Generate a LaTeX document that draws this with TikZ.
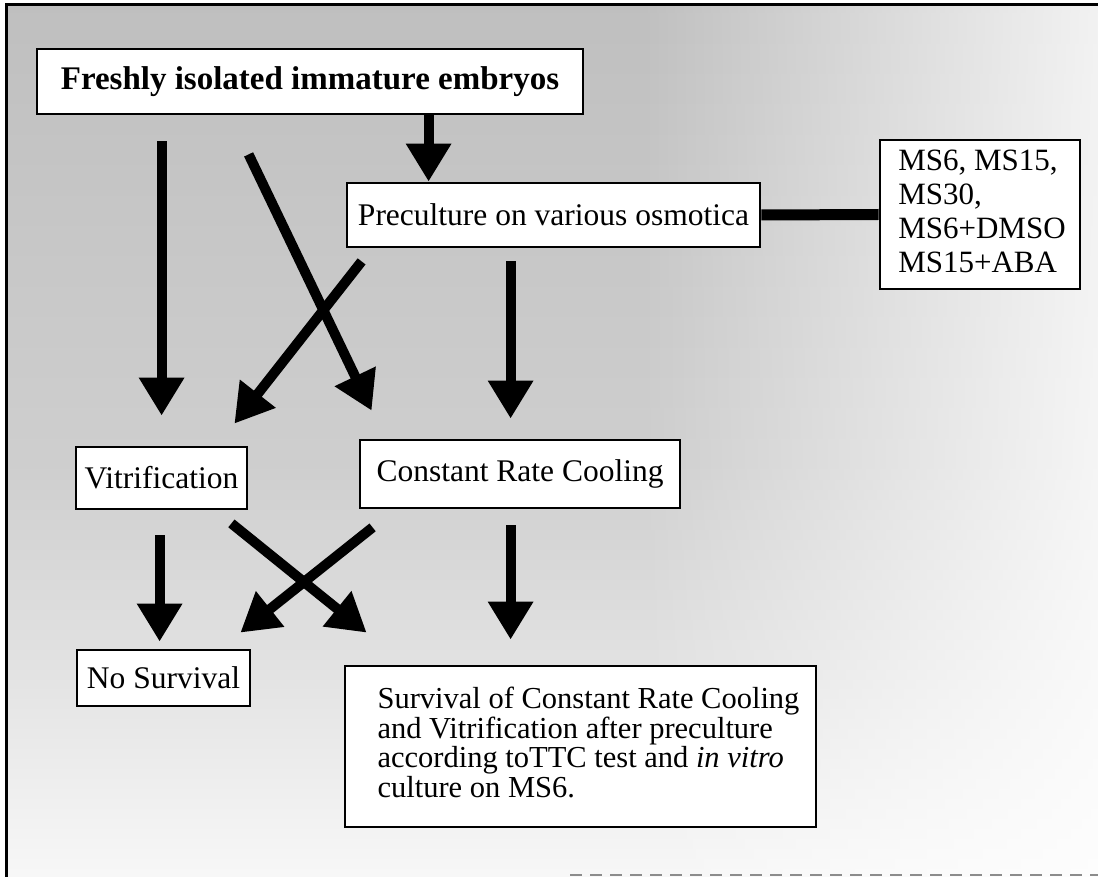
\documentclass[tikz,border=0pt]{standalone}
\usepackage{fontspec}
\setmainfont{Liberation Serif}
\usetikzlibrary{arrows.meta,calc,fadings}
\begin{document}
\begin{tikzpicture}[x=1pt,y=-1pt,
  box/.style={draw=black, line width=2.8pt, fill=white, inner sep=0pt,
    font=\fontsize{31.5}{34}\selectfont},
  fat/.style={line width=10pt, -{Triangle[length=38pt,width=43pt]}},
  link/.style={line width=11pt},
  frame/.style={line width=3pt, black}
]
\useasboundingbox (0,0) rectangle (1098,877);
% textured background approximated by shading
\shade[top color=black!25, bottom color=black!19] (6,5) rectangle (1098,470);
\shade[top color=black!19, middle color=black!10, bottom color=black!3] (6,470) rectangle (1098,877);
\fill[white, path fading=west, opacity=0.8] (640,5) rectangle (1098,877);
% outer frame
\draw[frame] (6,877) -- (6,5) -- (1098,5);
\draw[black!45, line width=2pt, dash pattern=on 12pt off 8pt] (570,875) -- (1098,875);

% nodes
\node[box, minimum width=546pt, minimum height=65pt,
  font=\bfseries\fontsize{33}{36}\selectfont] (fresh) at (310,81.5) {Freshly isolated immature embryos};
\node[box, minimum width=413pt, minimum height=64pt] (pre) at (553.5,215) {Preculture on various osmotica};
\node[box, minimum width=200pt, minimum height=149pt] (ms) at (980,214.5)
  {\hspace*{4pt}\fontsize{31}{34}\selectfont\begin{tabular}{@{}l@{}}MS6, MS15,\\MS30,\\MS6+DMSO\\MS15+ABA\end{tabular}};
\node[box, minimum width=171pt, minimum height=62pt] (vit) at (161.5,478) {Vitrification};
\node[box, minimum width=320pt, minimum height=68pt] (crc) at (520,474) {Constant Rate Cooling};
\node[box, minimum width=173pt, minimum height=56pt] (ns) at (163.5,678) {No Survival};
\node[box, minimum width=471pt, minimum height=161pt] (surv) at (580.5,746.5)
  {\hspace*{16pt}\fontsize{30.5}{28.5}\selectfont\begin{tabular}{@{}l@{}}Survival of Constant Rate Cooling\\
   and Vitrification after preculture\\
   according toTTC test and \textit{in vitro}\\
   culture on MS6.\end{tabular}};

% connectors
\draw[link] (pre.east) -- (ms.west);
\draw[fat] ($(fresh.south west)+(393,0)$) -- ($(pre.north west)+(83,0)$);
\draw[fat] ($(fresh.south west)+(126,26)$) -- ($(vit.north west)+(87,-30)$);
\draw[fat] ($(fresh.south west)+(213,39)$) -- ($(crc.north west)+(13,-28)$);
\draw[fat] ($(pre.south west)+(16,13)$) -- ($(vit.north east)+(-14,-22)$);
\draw[fat] ($(pre.south west)+(165,13)$) -- ($(crc.north west)+(152,-20)$);
\draw[fat] ($(vit.south west)+(85,25)$) -- ($(ns.north west)+(84,-7)$);
\draw[fat] ($(vit.south east)+(-17,13)$) -- ($(surv.north west)+(23,-32)$);
\draw[fat] ($(crc.south west)+(14,18)$) -- ($(ns.north east)+(-11,-16)$);
\draw[fat] ($(crc.south west)+(152,16)$) -- ($(surv.north west)+(167,-25)$);
\end{tikzpicture}
\end{document}
